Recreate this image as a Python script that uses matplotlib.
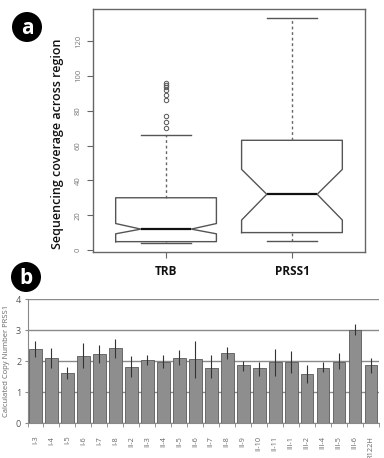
import matplotlib as mpl
import matplotlib.pyplot as plt
from matplotlib.patches import Ellipse
import numpy as np

mpl.rcParams['font.family'] = ['Open Sans', 'DejaVu Sans']

# panel a: coverage box plot stats
box_names = ['TRB', 'PRSS1']
box_q1 = [4.8, 10]
box_med = [12, 32]
box_q3 = [30, 63]
box_cilo = [9.3, 17.2]
box_cihi = [15.2, 46.3]
box_whislo = [4.3, 5]
box_whishi = [66, 133]
trb_outliers = [70.2, 73.7, 76.9, 86.1, 88.8, 91.8, 93.4, 94.5, 95.7]
prss1_outliers = []
cov_ticks = [0, 20, 40, 60, 80, 100, 120]

# panel b: copy number per sample
samples = ['I-3', 'I-4', 'I-5', 'I-6', 'I-7', 'I-8', 'II-2', 'II-3', 'II-4',
           'II-5', 'II-6', 'II-7', 'II-8', 'II-9', 'II-10', 'II-11', 'III-1',
           'III-2', 'III-4', 'III-5', 'III-6', 'R122H']
copy_number = [2.40, 2.10, 1.63, 2.17, 2.22, 2.42, 1.83, 2.04, 1.99, 2.12,
               2.06, 1.80, 2.26, 1.87, 1.77, 1.97, 1.99, 1.59, 1.80, 1.99,
               3.01, 1.87]
err_hi = [2.65, 2.42, 1.83, 2.60, 2.53, 2.71, 2.17, 2.20, 2.20, 2.37,
          2.65, 2.20, 2.45, 2.02, 1.99, 2.39, 2.33, 1.88, 1.99, 2.26,
          3.20, 2.12]
err_lo = [2.15, 1.77, 1.42, 1.77, 1.94, 2.10, 1.50, 1.88, 1.77, 1.88,
          1.45, 1.45, 2.06, 1.69, 1.53, 1.53, 1.61, 1.29, 1.66, 1.74,
          2.85, 1.63]

W, H = 384, 458
fig = plt.figure(figsize=(W / 100, H / 100), dpi=100)


def fig_rect(x0, y0, x1, y1):
    # pixel box (top-left origin) -> figure fraction rect
    return [x0 / W, 1 - y1 / H, (x1 - x0) / W, (y1 - y0) / H]


# ---- panel a ----
ax = fig.add_axes(fig_rect(93, 9, 365, 251.5))
stats = []
fliers = [trb_outliers, prss1_outliers]
for i, name in enumerate(box_names):
    stats.append(dict(label=name, q1=box_q1[i], med=box_med[i], q3=box_q3[i],
                      cilo=box_cilo[i], cihi=box_cihi[i],
                      whislo=box_whislo[i], whishi=box_whishi[i],
                      fliers=fliers[i]))
edge = '#555555'
ax.bxp(stats, positions=[1, 2], widths=0.8, shownotches=True,
       boxprops=dict(color=edge, lw=1.0),
       whiskerprops=dict(color='#666666', lw=1.0, ls=(0, (2, 2))),
       capprops=dict(color=edge, lw=1.0),
       medianprops=dict(color='#111111', lw=1.6),
       flierprops=dict(marker='o', markersize=3.2, markerfacecolor='none',
                       markeredgecolor='#555555', markeredgewidth=0.7))
ax.set_xlim(0.42, 2.58)
ax.set_ylim(-0.86, 138.4)
ax.set_yticks(cov_ticks)
ax.set_yticklabels([str(t) for t in cov_ticks], rotation=90, va='center',
                   fontsize=5.5, color='#777777')
ax.set_xticks([1, 2])
ax.set_xticklabels(box_names, fontsize=8.5, fontweight='bold', color='#111111')
ax.tick_params(axis='x', length=4, color='#666666', pad=6)
ax.tick_params(axis='y', length=4, color='#666666', pad=4)
for s in ax.spines.values():
    s.set_color('#666666')
    s.set_linewidth(1.0)
ax.set_ylabel('Sequencing coverage across region', fontsize=9,
              fontweight='semibold', color='#111111')
ax.yaxis.set_label_coords(-0.108, 0.443)

# ---- panel b ----
bx = fig.add_axes(fig_rect(27.5, 299.3, 379, 423.3))
x = np.arange(len(samples))
cn = np.array(copy_number)
yerr = np.vstack([cn - np.array(err_lo), np.array(err_hi) - cn])
bx.set_axisbelow(True)
bx.yaxis.grid(True, color='#8a8a8a', lw=1.0)
bx.bar(x, cn, width=0.8, color='#8e8e8e', edgecolor='#5a5a5a', lw=0.6,
       yerr=yerr, error_kw=dict(ecolor='#333333', elinewidth=0.8, capsize=0))
bx.set_xlim(-0.5, len(samples) - 0.5)
bx.set_ylim(0, 4)
bx.set_yticks([0, 1, 2, 3, 4])
bx.tick_params(axis='y', labelsize=6.5, labelcolor='#555555', length=2.5,
               color='#888888', pad=2)
bx.set_xticks(x)
bx.set_xticklabels(samples, rotation=90, fontsize=5.3, color='#666666')
bx.set_xticks(np.arange(-0.5, len(samples)), minor=True)
bx.tick_params(axis='x', which='major', length=0, pad=9)
bx.tick_params(axis='x', which='minor', length=3, color='#888888')
for side in ['top', 'right']:
    bx.spines[side].set_visible(False)
bx.spines['left'].set_color('#888888')
bx.spines['bottom'].set_color('#888888')
bx.set_ylabel('Calculated Copy Number PRSS1', fontsize=5.5, color='#666666',
              labelpad=4)

# ---- panel letters ----
for letter, cx, cy in [('a', 27, 27), ('b', 26, 277)]:
    fig.patches.append(Ellipse((cx / W, 1 - cy / H), 30 / W, 30 / H,
                               transform=fig.transFigure, fc='black',
                               ec='none'))
    fig.text(cx / W, 1 - (cy + 1) / H, letter, color='white', fontsize=15,
             fontweight='bold', ha='center', va='center')

fig.savefig('out.png', dpi=100, facecolor='white')
